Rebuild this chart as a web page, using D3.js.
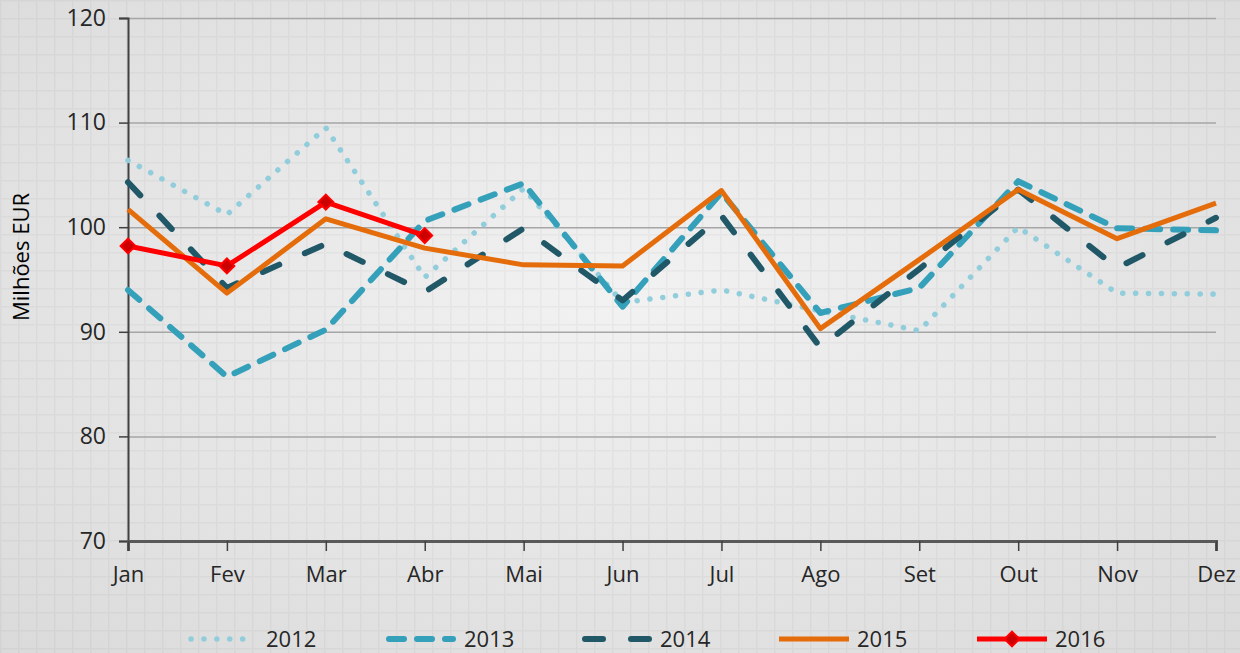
<!DOCTYPE html>
<html lang="pt">
  <head>
    <meta charset="UTF-8" />
    <title>Milhões EUR por mês</title>
    <style>
      body { margin: 0; background: #e6e6e6; }
      svg text { font-family: "Open Sans", "DejaVu Sans", sans-serif; }
    </style>
  </head>
  <body>
    <svg id="chart" width="1240" height="653"></svg>
    <script src="https://cdn.jsdelivr.net/npm/d3@7"></script>
    <script>
      // dados
      const months = ["Jan", "Fev", "Mar", "Abr", "Mai", "Jun", "Jul", "Ago", "Set", "Out", "Nov", "Dez"];
      const yTicks = [70, 80, 90, 100, 110, 120];
      const v2012 = [106.4, 101.2, 109.5, 95.2, 103.7, 92.8, 94.0, 92.0, 90.1, 100.0, 93.7, 93.6];
      const v2013 = [94.0, 85.7, 90.2, 100.6, 104.2, 92.4, 103.3, 91.8, 94.2, 104.4, 99.9, 99.7];
      const v2014 = [104.3, 94.2, 98.4, 93.8, 99.9, 93.0, 101.1, 88.5, 96.0, 103.6, 96.1, 100.9];
      const v2015 = [101.7, 93.7, 100.8, 98.0, 96.4, 96.3, 103.5, 90.3, 96.9, 103.6, 98.9, 102.3];
      const v2016 = [98.2, 96.3, 102.4, 99.2];

      const series = [
        { name: "2012", values: v2012, color: "#92cddc", width: 5.5, dash: "0.1 12.8", cap: "round" },
        { name: "2013", values: v2013, color: "#35a0ba", width: 6, dash: "15 13", cap: "round" },
        { name: "2014", values: v2014, color: "#205868", width: 6, dash: "18 28", cap: "round" },
        { name: "2015", values: v2015, color: "#e46c0a", width: 5, dash: null, cap: "butt" },
        { name: "2016", values: v2016, color: "#ff0000", width: 5, dash: null, cap: "butt", marker: true }
      ];

      const W = 1240, H = 653;
      const m = { left: 128, right: 1216, top: 18, bottom: 541 };

      const svg = d3.select("#chart");
      const defs = svg.append("defs");

      // fundo: degradê + quadriculado
      const grad = defs.append("radialGradient").attr("id", "bg").attr("cx", "50%").attr("cy", "45%").attr("r", "75%");
      grad.append("stop").attr("offset", "0%").attr("stop-color", "#f2f2f2");
      grad.append("stop").attr("offset", "100%").attr("stop-color", "#dadada");

      const pat = defs.append("pattern").attr("id", "grid").attr("width", 18).attr("height", 18)
        .attr("patternUnits", "userSpaceOnUse");
      pat.append("path").attr("d", "M 0 0.5 H 18 M 0.5 0 V 18")
        .style("stroke", "rgba(0,0,0,0.035)").style("stroke-width", 2).style("fill", "none");

      svg.append("rect").attr("width", W).attr("height", H).attr("fill", "url(#bg)");
      svg.append("rect").attr("width", W).attr("height", H).attr("fill", "url(#grid)");

      const x = d3.scalePoint().domain(months).range([m.left, m.right]);
      const y = d3.scaleLinear().domain([70, 120]).range([m.bottom, m.top]);

      // linhas de grade
      const grid = svg.append("g")
        .attr("transform", `translate(${m.left},0)`)
        .call(d3.axisLeft(y).tickValues(yTicks).tickSize(-(m.right - m.left)).tickFormat(""));
      grid.select(".domain").remove();
      grid.selectAll("line").style("stroke", "#a6a6a6").style("stroke-width", 1.5);

      // eixo Y
      const yAxis = svg.append("g")
        .attr("transform", `translate(${m.left},0)`)
        .call(d3.axisLeft(y).tickValues(yTicks).tickSize(9).tickPadding(13));
      yAxis.select(".domain").style("stroke", "#404040").style("stroke-width", 2);
      yAxis.selectAll("line").style("stroke", "#404040").style("stroke-width", 1.5);
      yAxis.selectAll("text").style("font-size", "23px").style("fill", "#262626");

      // eixo X
      const xAxis = svg.append("g")
        .attr("transform", `translate(0,${m.bottom})`)
        .call(d3.axisBottom(x).tickSize(10).tickSizeOuter(10).tickPadding(15));
      xAxis.select(".domain").style("stroke", "#595959").style("stroke-width", 3);
      xAxis.selectAll("line").style("stroke", "#404040").style("stroke-width", 1.5);
      xAxis.selectAll("text").style("font-size", "22px").style("fill", "#262626");

      svg.append("text")
        .attr("transform", `translate(29,257) rotate(-90)`)
        .attr("text-anchor", "middle")
        .style("font-size", "22px")
        .style("fill", "#000")
        .text("Milhões EUR");

      const line = d3.line()
        .x((d, i) => x(months[i]))
        .y(d => y(d));

      series.forEach(s => {
        svg.append("path")
          .attr("d", line(s.values))
          .style("fill", "none")
          .style("stroke", s.color)
          .style("stroke-width", s.width)
          .style("stroke-dasharray", s.dash)
          .style("stroke-linecap", s.cap)
          .style("stroke-linejoin", "round");
      });

      const diamond = d3.symbol().type(d3.symbolSquare).size(110);
      svg.append("g").selectAll("path")
        .data(v2016)
        .join("path")
        .attr("d", diamond)
        .attr("transform", (d, i) => `translate(${x(months[i])},${y(d)}) rotate(45)`)
        .style("fill", "#cc0000")
        .style("stroke", "#ff0000")
        .style("stroke-width", 2);

      // legenda
      const legendX = [188, 386, 582, 779, 977];
      const legend = svg.append("g");
      series.forEach((s, i) => {
        const g = legend.append("g").attr("transform", `translate(${legendX[i]},639)`);
        g.append("line")
          .attr("x1", s.cap === "round" ? 3 : 0).attr("x2", s.cap === "round" ? 67 : 70)
          .style("stroke", s.color)
          .style("stroke-width", s.width)
          .style("stroke-dasharray", s.dash)
          .style("stroke-linecap", s.cap);
        if (s.marker) {
          g.append("path").attr("d", diamond)
            .attr("transform", "translate(35,0) rotate(45)")
            .style("fill", "#cc0000").style("stroke", "#ff0000").style("stroke-width", 2);
        }
        g.append("text")
          .attr("x", 78).attr("y", 8)
          .style("font-size", "22px")
          .style("fill", "#262626")
          .text(s.name);
      });
    </script>
  </body>
</html>
